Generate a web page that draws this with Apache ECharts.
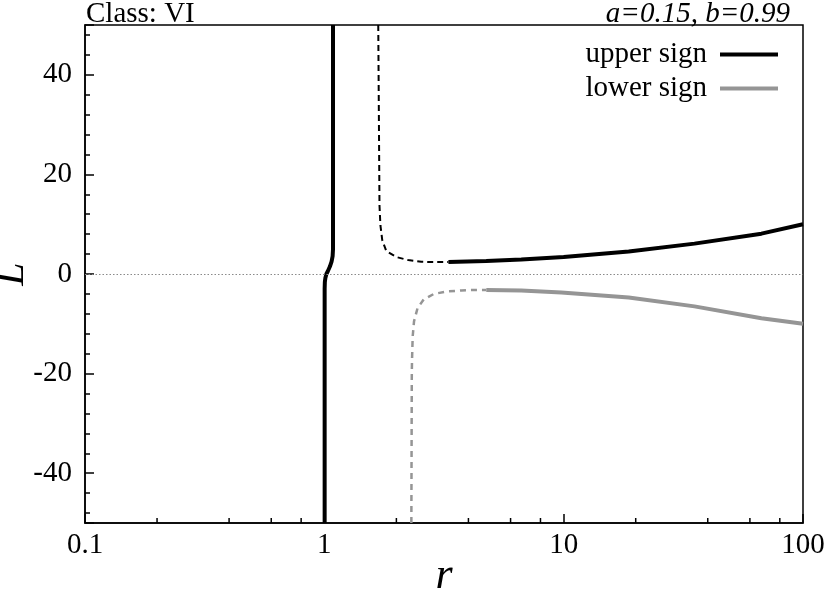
<!DOCTYPE html>
<html>
<head>
<meta charset="utf-8">
<script src="https://cdn.jsdelivr.net/npm/echarts@6/dist/echarts.min.js"></script>
<style>
  html, body { margin: 0; padding: 0; background: #fff; }
  #main { width: 829px; height: 591px; }
</style>
</head>
<body>
<div id="main"></div>
<script>
// upper sign branch near r = 1 (solid)
const upperNear = [
  [1.087, 50], [1.087, 5], [1.083, 3.6], [1.072, 2.5], [1.055, 1.5], [1.035, 0.6],
  [1.02, 0], [1.01, -0.8], [1.005, -1.6], [1.003, -3], [1.003, -50]
]
// upper sign, unstable part (dashed)
const upperDash = [
  [1.68, 50], [1.70, 13.8], [1.715, 9.8], [1.746, 6.8], [1.815, 4.6], [2.0, 3.4],
  [2.24, 2.8], [2.54, 2.45], [2.94, 2.4], [3.3, 2.4]
]
// upper sign, stable part (solid)
const upperSolid = [
  [3.3, 2.4], [4.75, 2.6], [6.65, 2.9], [10, 3.4], [18.7, 4.5], [35.2, 6.1], [67, 8.1], [100, 10]
]
// lower sign, unstable part (dashed)
const lowerDash = [
  [2.31, -50], [2.32, -20], [2.325, -17.2], [2.34, -12.5], [2.37, -9.5], [2.45, -6.9],
  [2.6, -5.1], [2.87, -4.0], [3.27, -3.5], [3.74, -3.3], [4.32, -3.2], [4.75, -3.2]
]
// lower sign, stable part (solid)
const lowerSolid = [
  [4.75, -3.2], [6.65, -3.3], [9.78, -3.7], [18.7, -4.7], [35.2, -6.5], [67, -8.9], [100, -10]
]
const xMin = 0.1
const xMax = 100
const yMin = -50
const yMax = 50
const xMinorTicks = [0.2, 0.4, 0.6, 0.8, 2, 4, 6, 8, 20, 40, 60, 80]

const serif = 'Liberation Serif'
const grey = '#959595'

const myChart = echarts.init(document.getElementById('main'))

const option = {
  animation: false,
  title: [
    {
      text: 'Class: VI',
      left: 86,
      top: 0,
      padding: 0,
      textStyle: { fontFamily: serif, fontSize: 29, fontWeight: 'normal', color: '#000' }
    },
    {
      text: 'a=0.15, b=0.99',
      right: 39,
      top: 0,
      padding: 0,
      textStyle: { fontFamily: serif, fontSize: 29, fontWeight: 'normal', fontStyle: 'italic', color: '#000' }
    }
  ],
  legend: {
    data: ['upper sign', 'lower sign'],
    orient: 'vertical',
    right: 51,
    top: 40,
    padding: 0,
    align: 'right',
    icon: 'rect',
    itemWidth: 58,
    itemHeight: 4,
    itemGap: 5,
    textStyle: { fontFamily: serif, fontSize: 29, color: '#000', padding: [0, 8, 0, 0] }
  },
  grid: {
    left: 85,
    right: 26,
    top: 25,
    bottom: 68,
    containLabel: false,
    outerBoundsMode: 'none',
    show: true,
    borderColor: '#000',
    borderWidth: 1.5
  },
  xAxis: {
    type: 'log',
    logBase: 10,
    min: xMin,
    max: xMax,
    name: 'r',
    nameLocation: 'middle',
    nameGap: 31,
    nameMoveOverlap: false,
    nameTextStyle: { fontFamily: serif, fontSize: 44, fontStyle: 'italic', color: '#000' },
    axisLine: { onZero: false, lineStyle: { color: '#000', width: 1.5 } },
    axisTick: { inside: true, length: 9, lineStyle: { color: '#000', width: 1.5 } },
    minorTick: { show: false },
    splitLine: { show: false },
    axisLabel: {
      fontFamily: serif,
      fontSize: 29,
      color: '#000',
      margin: 8,
      formatter: v => String(+Number(v).toPrecision(6))
    }
  },
  yAxis: {
    type: 'value',
    min: yMin,
    max: yMax,
    splitNumber: 5,
    name: 'L',
    nameLocation: 'middle',
    nameRotate: 90,
    nameGap: 52,
    nameMoveOverlap: false,
    nameTextStyle: { fontFamily: serif, fontSize: 42, fontStyle: 'italic', color: '#000' },
    axisLine: { onZero: false, lineStyle: { color: '#000', width: 1.5 } },
    axisTick: { inside: true, length: 9, lineStyle: { color: '#000', width: 1.5 } },
    minorTick: { show: true, splitNumber: 5, length: 5, lineStyle: { color: '#000', width: 1.5 } },
    splitLine: { show: false },
    axisLabel: {
      fontFamily: serif,
      fontSize: 29,
      color: '#000',
      margin: 13,
      showMinLabel: false,
      showMaxLabel: false
    }
  },
  series: [
    {
      name: 'upper sign',
      type: 'line',
      data: upperNear,
      showSymbol: false,
      lineStyle: { color: '#000', width: 4 },
      itemStyle: { color: '#000' },
      markLine: {
        silent: true,
        symbol: 'none',
        label: { show: false },
        lineStyle: { color: '#8a8a8a', width: 1.2, type: [1.5, 2] },
        emphasis: { disabled: true },
        data: [{ yAxis: 0 }]
      },
      z: 3
    },
    {
      name: 'upper unstable',
      type: 'line',
      data: upperDash,
      showSymbol: false,
      lineStyle: { color: '#000', width: 2, type: [6, 4] }
    },
    {
      name: 'upper sign',
      type: 'line',
      data: upperSolid,
      showSymbol: false,
      lineStyle: { color: '#000', width: 4 },
      itemStyle: { color: '#000' }
    },
    {
      name: 'lower unstable',
      type: 'line',
      data: lowerDash,
      showSymbol: false,
      lineStyle: { color: grey, width: 2.5, type: [6, 5] }
    },
    {
      name: 'lower sign',
      type: 'line',
      data: lowerSolid,
      showSymbol: false,
      lineStyle: { color: grey, width: 4 },
      itemStyle: { color: grey }
    },
    {
      // minor ticks of the log axis at 2, 4, 6, 8 in each decade
      name: 'x minor ticks',
      type: 'scatter',
      silent: true,
      clip: false,
      symbol: 'rect',
      symbolSize: [1.5, 5],
      symbolOffset: [0, -2.5],
      itemStyle: { color: '#000', opacity: 1 },
      z: 10,
      data: xMinorTicks.map(r => [r, yMin])
    }
  ]
}
myChart.setOption(option)
</script>
</body>
</html>
